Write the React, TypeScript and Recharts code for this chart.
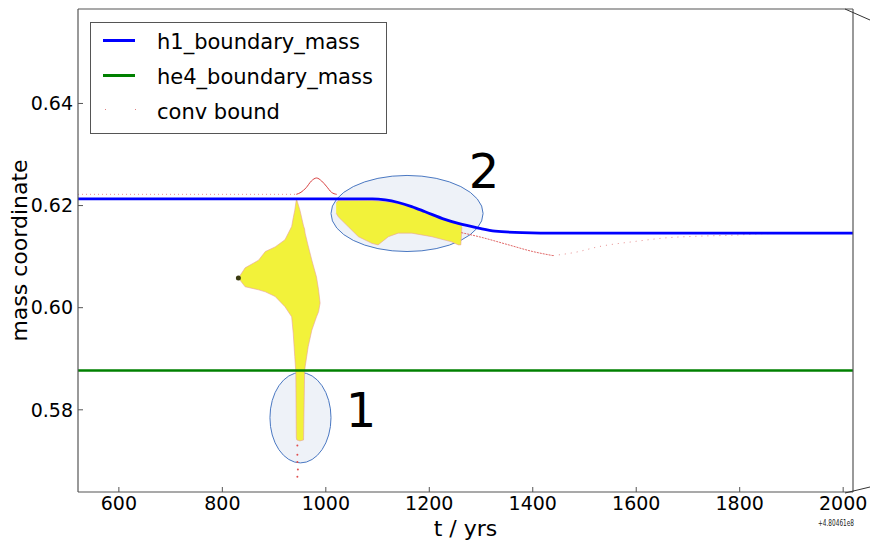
import {
  Area,
  ComposedChart,
  Legend,
  Line,
  ReferenceArea,
  ReferenceDot,
  Scatter,
  XAxis,
  YAxis,
} from "recharts";

const FONT = "'DejaVu Sans', sans-serif";
const FRAME = "#555";

// eixo de tempo em anos (offset +4.80461e8)
const X_DOMAIN = [521, 2019];
const Y_DOMAIN = [0.5639, 0.6585];
const X_TICKS = [600, 800, 1000, 1200, 1400, 1600, 1800, 2000];
const Y_TICKS = [0.58, 0.6, 0.62, 0.64];

// h1_boundary_mass
const h1T = [521, 1090, 1115, 1140, 1166, 1192, 1230, 1256, 1295, 1327, 1380, 1450, 2019];
const h1Mass = [0.6213, 0.6213, 0.6211, 0.6206, 0.6198, 0.6188, 0.6173, 0.6165, 0.6156, 0.615, 0.6147, 0.6146, 0.6146];

// he4_boundary_mass
const he4T = [521, 2019];
const he4Mass = [0.5877, 0.5877];

// conv bound (pontos vermelhos)
const convFlatT = [521, 943];
const convFlatMass = [0.6222, 0.6222];
const convBumpT = [943, 952, 962, 972, 982, 992, 1001, 1011, 1021];
const convBumpMass = [0.6222, 0.6226, 0.6235, 0.6248, 0.6254, 0.6248, 0.6238, 0.6226, 0.6222];
const convDropT = [1262, 1300, 1350, 1400, 1439];
const convDropMass = [0.6147, 0.6138, 0.6124, 0.611, 0.6102];
const convRiseT = [1439, 1480, 1530, 1600, 1660, 1720, 1788, 1850, 2019];
const convRiseMass = [0.6102, 0.6108, 0.612, 0.613, 0.6137, 0.614, 0.6142, 0.6145, 0.6146];
const convStemT = [945, 945, 945, 946, 945];
const convStemMass = [0.573, 0.5712, 0.5698, 0.5683, 0.5669];

// zona convectiva 1 (mancha amarela)
const blob1T = [831, 844, 870, 883, 902, 921, 934, 937, 940, 942, 943, 944, 950, 957, 959, 960, 966, 973, 982, 986, 989];
const blob1Hi = [0.6058, 0.6078, 0.6093, 0.611, 0.6119, 0.6133, 0.6159, 0.6176, 0.6191, 0.6205, 0.6211, 0.6211, 0.6191, 0.616, 0.6154, 0.6146, 0.6121, 0.6093, 0.606, 0.6035, 0.6009];
const blob1Lo = [0.6058, 0.6041, 0.6035, 0.6031, 0.6022, 0.6002, 0.5982, 0.595, 0.5904, 0.5874, 0.5745, 0.5741, 0.5739, 0.5741, 0.5874, 0.5884, 0.5924, 0.5956, 0.5982, 0.5992, 0.6009];

// zona convectiva 2
const blob2T = [1020, 1024, 1043, 1063, 1081, 1089, 1101, 1121, 1140, 1166, 1205, 1243, 1256, 1261, 1263];
const blob2Hi = [0.6205, 0.621, 0.621, 0.621, 0.621, 0.621, 0.6209, 0.6207, 0.6204, 0.6197, 0.6182, 0.6167, 0.6164, 0.6163, 0.6163];
const blob2Lo = [0.6185, 0.6178, 0.6159, 0.6139, 0.613, 0.6126, 0.6123, 0.6139, 0.6146, 0.6146, 0.6139, 0.6129, 0.6123, 0.6123, 0.6158];

const tipT = [831];
const tipMass = [0.6058];

// elipses de destaque
const zone1X = [892, 1010];
const zone1Y = [0.5696, 0.5873];
const zone2X = [1010, 1304];
const zone2Y = [0.611, 0.6259];
const zoneLabelT = [1068, 1306];
const zoneLabelMass = [0.58, 0.6268];
const zoneLabelText = ["1", "2"];

const pontos = (ts: number[], ms: number[]) => ts.map((t, i) => ({ t, m: ms[i] }));
const faixa = (ts: number[], lo: number[], hi: number[]) =>
  ts.map((t, i) => ({ t, range: [lo[i], hi[i]] }));

function Elipse(props: any) {
  const { x, y, width, height } = props;
  return (
    <ellipse
      cx={x + width / 2}
      cy={y + height / 2}
      rx={Math.abs(width) / 2}
      ry={Math.abs(height) / 2}
      fill="#eef2f8"
      stroke="#4a78c2"
      strokeWidth={1}
    />
  );
}

function CaixaLegenda() {
  const linhas = [
    { nome: "h1_boundary_mass", cor: "#0000ff", tipo: "linha" },
    { nome: "he4_boundary_mass", cor: "#008000", tipo: "linha" },
    { nome: "conv bound", cor: "#e08080", tipo: "ponto" },
  ];
  return (
    <div
      style={{
        width: 295,
        height: 110,
        border: `1px solid ${FRAME}`,
        background: "#fff",
        position: "relative",
        fontFamily: FONT,
        fontSize: 21,
        color: "#000",
      }}
    >
      {linhas.map((l, i) => (
        <div key={l.nome}>
          {l.tipo === "linha" ? (
            <div
              style={{ position: "absolute", left: 12, top: 15.5 + i * 35, width: 32, height: 3, background: l.cor }}
            />
          ) : (
            <>
              <div style={{ position: "absolute", left: 14, top: 16 + i * 35, width: 1, height: 1, background: l.cor }} />
              <div style={{ position: "absolute", left: 44, top: 16 + i * 35, width: 1, height: 1, background: l.cor }} />
            </>
          )}
          <div style={{ position: "absolute", left: 66, top: 6.7 + i * 35, lineHeight: "24px", whiteSpace: "nowrap" }}>
            {l.nome}
          </div>
        </div>
      ))}
    </div>
  );
}

export default function App() {
  const eixo = { stroke: FRAME, strokeWidth: 1.2 };
  const tick = { fill: "#000", fontSize: 19, fontFamily: FONT };
  return (
    <div style={{ position: "absolute", left: 0, top: 0, width: 870, height: 542, background: "#fff", fontFamily: FONT }}>
      <ComposedChart width={870} height={542} margin={{ top: 8, right: 16, bottom: 0, left: 0 }}>
        <XAxis
          xAxisId="b"
          dataKey="t"
          type="number"
          domain={X_DOMAIN}
          ticks={X_TICKS}
          allowDataOverflow
          height={50}
          tickSize={-5}
          tickMargin={10}
          tick={tick}
          axisLine={eixo}
          tickLine={{ stroke: FRAME }}
          label={{ value: "t / yrs", position: "insideBottom", offset: 6, fontSize: 22, fill: "#000" }}
        />
        <XAxis
          xAxisId="top"
          orientation="top"
          type="number"
          domain={X_DOMAIN}
          ticks={X_TICKS}
          allowDataOverflow
          height={1}
          tickSize={-5}
          tick={false}
          axisLine={eixo}
          tickLine={{ stroke: FRAME }}
        />
        <YAxis
          yAxisId="l"
          dataKey="m"
          type="number"
          domain={Y_DOMAIN}
          ticks={Y_TICKS}
          allowDataOverflow
          width={78}
          tickSize={-5}
          tickMargin={10}
          tick={tick}
          tickFormatter={(v) => Number(v).toFixed(2)}
          axisLine={eixo}
          tickLine={{ stroke: FRAME }}
          label={{
            value: "mass coordinate",
            angle: -90,
            position: "insideLeft",
            offset: 19,
            fontSize: 22,
            fill: "#000",
            style: { textAnchor: "middle" },
          }}
        />
        <YAxis
          yAxisId="right"
          orientation="right"
          type="number"
          domain={Y_DOMAIN}
          ticks={Y_TICKS}
          allowDataOverflow
          width={1}
          tickSize={-5}
          tick={false}
          axisLine={eixo}
          tickLine={{ stroke: FRAME }}
        />

        <ReferenceArea xAxisId="b" yAxisId="l" x1={zone1X[0]} x2={zone1X[1]} y1={zone1Y[0]} y2={zone1Y[1]} shape={Elipse} ifOverflow="visible" />
        <ReferenceArea xAxisId="b" yAxisId="l" x1={zone2X[0]} x2={zone2X[1]} y1={zone2Y[0]} y2={zone2Y[1]} shape={Elipse} ifOverflow="visible" />

        <Line xAxisId="b" yAxisId="l" data={pontos(convFlatT, convFlatMass)} dataKey="m" stroke="#e06060" strokeWidth={1} strokeDasharray="1 3" strokeOpacity={0.7} dot={false} isAnimationActive={false} />
        <Line xAxisId="b" yAxisId="l" data={pontos(convBumpT, convBumpMass)} dataKey="m" type="monotone" stroke="#d84040" strokeWidth={1} dot={false} isAnimationActive={false} />
        <Line xAxisId="b" yAxisId="l" data={pontos(convDropT, convDropMass)} dataKey="m" type="monotone" stroke="#d84040" strokeWidth={0.8} strokeDasharray="2 1" dot={false} isAnimationActive={false} />
        <Line xAxisId="b" yAxisId="l" data={pontos(convRiseT, convRiseMass)} dataKey="m" type="monotone" stroke="#e07070" strokeWidth={1} strokeDasharray="1 5" strokeOpacity={0.8} dot={false} isAnimationActive={false} />
        <Scatter xAxisId="b" yAxisId="l" data={pontos(convStemT, convStemMass)} fill="#e05050" shape={(p: any) => <circle cx={p.cx} cy={p.cy} r={1} fill="#e05050" />} isAnimationActive={false} />

        <Area xAxisId="b" yAxisId="l" data={faixa(blob1T, blob1Lo, blob1Hi)} dataKey="range" type="linear" fill="#f2f23a" fillOpacity={1} stroke="#e8a0a0" strokeWidth={0.6} isAnimationActive={false} />
        <Area xAxisId="b" yAxisId="l" data={faixa(blob2T, blob2Lo, blob2Hi)} dataKey="range" type="linear" fill="#f2f23a" fillOpacity={1} stroke="#e8a0a0" strokeWidth={0.6} isAnimationActive={false} />
        <Scatter xAxisId="b" yAxisId="l" data={pontos(tipT, tipMass)} shape={(p: any) => <circle cx={p.cx} cy={p.cy} r={2.5} fill="#3a3a10" />} isAnimationActive={false} />

        <Line xAxisId="b" yAxisId="l" data={pontos(h1T, h1Mass)} dataKey="m" type="monotone" stroke="#0000ff" strokeWidth={2.8} dot={false} isAnimationActive={false} />
        <Line xAxisId="b" yAxisId="l" data={pontos(he4T, he4Mass)} dataKey="m" stroke="#008000" strokeWidth={2.4} dot={false} isAnimationActive={false} />

        {zoneLabelText.map((txt, i) => (
          <ReferenceDot
            key={txt}
            xAxisId="b"
            yAxisId="l"
            x={zoneLabelT[i]}
            y={zoneLabelMass[i]}
            ifOverflow="visible"
            shape={(p: any) => (
              <text x={p.cx} y={p.cy} dy="0.36em" textAnchor="middle" fontSize={48} fontFamily={FONT} fill="#000">
                {txt}
              </text>
            )}
          />
        ))}

        <Legend
          layout="vertical"
          align="center"
          verticalAlign="middle"
          content={() => <CaixaLegenda />}
          wrapperStyle={{ left: 90, top: 22, width: 297, height: 112 }}
        />
      </ComposedChart>
      <svg width={870} height={542} style={{ position: "absolute", left: 0, top: 0, pointerEvents: "none" }}>
        <line x1={845} y1={9} x2={870} y2={20} stroke="#333" strokeWidth={1} />
        <line x1={845} y1={493} x2={870} y2={487} stroke="#333" strokeWidth={1} />
        <text x={836} y={526} textAnchor="middle" fontSize={8} fontFamily={FONT} fill="#222" textLength={36} lengthAdjust="spacingAndGlyphs">
          +4.80461e8
        </text>
      </svg>
    </div>
  );
}
